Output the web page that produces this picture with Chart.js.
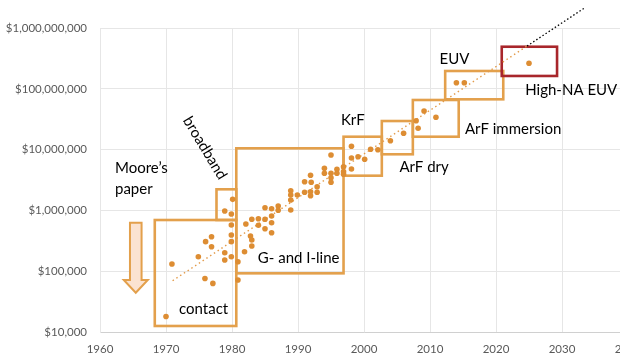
<!DOCTYPE html>
<html><head><meta charset="utf-8">
<script src="https://cdn.jsdelivr.net/npm/chart.js@4"></script>
<style>html,body{margin:0;padding:0;overflow:hidden;background:#fff;width:620px;height:361px}canvas{display:block}</style>
</head><body><canvas id="c" width="680" height="361"></canvas>
<script>
// ---- data ----
const years = [1970.0,1970.9,1974.9,1975.9,1977.1,1976.0,1976.9,1976.9,1978.9,1978.9,1978.9,1979.9,1979.9,1979.9,1979.9,1979.9,1980.9,1980.9,1981.9,1982.1,1980.1,
 1983.0,1982.8,1983.0,1983.0,1984.0,1984.0,1985.0,1985.0,1985.0,1986.0,1986.0,1986.0,1986.0,1987.0,1987.0,1988.9,1988.9,1988.9,1988.9,1989.9,
 1991.0,1991.0,1991.9,1992.0,1991.9,1991.9,1992.9,1992.9,1994.0,1994.0,1995.0,1995.0,1995.0,1995.0,1995.9,1995.9,1996.9,1996.9,1996.9,
 1998.1,1998.1,1998.1,1999.1,2000.1,2001.0,2002.1,2004.0,2006.0,2007.9,2008.2,2009.1,2010.9,2014.0,2015.2,2025.0];
const costs = [18000,131000,173000,76000,63000,306000,369000,253000,977000,201000,153000,873000,575000,394000,306000,173000,143000,71600,209000,597000,1520000,
 714000,379000,326000,259000,730000,569000,1107000,714000,500000,1067000,809000,628000,430000,1181000,1004000,2110000,1791000,1483000,1016000,1791000,
 2965000,1985000,3778000,2900000,2030000,1745000,2455000,1985000,4926000,4074000,8150000,4074000,3450000,2900000,4742000,4074000,5233000,4335000,3926000,
 11330000,7275000,4800000,7640000,6920000,10120000,9960000,13960000,18540000,29870000,22400000,43150000,33970000,126000000,126000000,262600000];

const trendYears = [1971, 2024.7];
const trendCosts = [69700, 505000000];
const forecastYears = [2024.7, 2033.4];
const forecastCosts = [505000000, 2130000000];

const xTicks = [1960,1970,1980,1990,2000,2010,2020,2030,2040];
const yTicks = [1e4,1e5,1e6,1e7,1e8,1e9];
const yTickLabels = ['$10,000','$100,000','$1,000,000','$10,000,000','$100,000,000','$1,000,000,000'];

const eras      = ['contact','broadband','G- and I-line','KrF','ArF dry','ArF immersion','EUV','High-NA EUV'];
const eraStart  = [1968.3, 1977.65, 1980.65, 1996.9, 2002.7, 2007.4, 2012.3, 2020.87];
const eraEnd    = [1980.65, 1980.65, 1996.9, 2002.7, 2007.4, 2014.35, 2021.1, 2029.25];
const eraLow    = [12560, 695000, 92260, 3724000, 8375000, 16290000, 67140000, 162600000];
const eraHigh   = [695000, 2223000, 10500000, 16290000, 29510000, 65460000, 196300000, 492000000];

// label placement (data units) and styling
const eraLabelPos = [
  {x:1975.7, y:23900},
  {x:1975.9, y:10600000, rot:59},
  {x:1990.1, y:163000},
  {x:1998.3, y:30100000},
  {x:2009.1, y:5240000},
  {x:2022.6, y:21800000},
  {x:2013.7, y:313000000},
  {x:2031.4, y:95500000}
];
const mooreText = ['Moore\u2019s','paper'];
const moorePos = [{x:1962.27, y:4980000},{x:1962.27, y:2250000}];
const arrow = {x:1965.42, top:628000, headBase:71600, tip:44300};

const ORANGE = '#E3A04C', DOT = '#DD8D33', RED = '#A8262B';

const annot = {
  id:'annot',
  beforeDatasetsDraw(chart){
    const {ctx, scales:{x,y}} = chart;
    ctx.save();
    ctx.lineWidth = 2.6;
    eras.forEach((e,i)=>{
      const x0 = x.getPixelForValue(eraStart[i]), x1 = x.getPixelForValue(eraEnd[i]);
      const y0 = y.getPixelForValue(eraHigh[i]), y1 = y.getPixelForValue(eraLow[i]);
      ctx.strokeStyle = i===eras.length-1 ? RED : ORANGE;
      ctx.strokeRect(x0, y0, x1-x0, y1-y0);
    });
    // arrow
    const ax = x.getPixelForValue(arrow.x);
    const at = y.getPixelForValue(arrow.top), ab = y.getPixelForValue(arrow.headBase), ap = y.getPixelForValue(arrow.tip);
    const sw = 5.8, hw = 12;
    ctx.beginPath();
    ctx.moveTo(ax-sw, at); ctx.lineTo(ax+sw, at); ctx.lineTo(ax+sw, ab); ctx.lineTo(ax+hw, ab);
    ctx.lineTo(ax, ap); ctx.lineTo(ax-hw, ab); ctx.lineTo(ax-sw, ab); ctx.closePath();
    ctx.fillStyle = '#FBE3D1'; ctx.fill();
    ctx.strokeStyle = ORANGE; ctx.lineWidth = 2; ctx.lineJoin='miter'; ctx.stroke();
    ctx.restore();
  },
  afterDraw(chart){
    const {ctx, scales:{x,y}} = chart;
    ctx.save();
    ctx.fillStyle = '#000';
    ctx.font = '15px Lato';
    ctx.textBaseline = 'middle';
    eras.forEach((e,i)=>{
      const p = eraLabelPos[i];
      const px = x.getPixelForValue(p.x), py = y.getPixelForValue(p.y);
      ctx.save();
      ctx.translate(px, py);
      if (p.rot) ctx.rotate(p.rot*Math.PI/180);
      ctx.textAlign = 'center';
      ctx.fillText(e, 0, 0);
      ctx.restore();
    });
    ctx.textAlign = 'left';
    mooreText.forEach((t,i)=>{
      ctx.fillText(t, x.getPixelForValue(moorePos[i].x), y.getPixelForValue(moorePos[i].y));
    });
    ctx.restore();
  }
};

const tickFont = {family:'Lato', size:11.5};
new Chart(document.getElementById('c'), {
  type:'scatter',
  data:{datasets:[
    {data: years.map((v,i)=>({x:v, y:costs[i]})), backgroundColor:DOT, borderColor:DOT, pointRadius:2.8, pointHoverRadius:2.8, borderWidth:0},
    {type:'line', data: trendYears.map((v,i)=>({x:v, y:trendCosts[i]})), borderColor:'#E39B4A', borderWidth:1.4, borderDash:[1.5,3], pointRadius:0, fill:false, clip:false},
    {type:'line', data: forecastYears.map((v,i)=>({x:v, y:forecastCosts[i]})), borderColor:'#000', borderWidth:1.3, borderDash:[1.5,2.2], pointRadius:0, fill:false, clip:false}
  ]},
  options:{
    responsive:false, animation:false, events:[],
    layout:{padding:{top:28, right:52, left:0, bottom:0}},
    plugins:{legend:{display:false}, tooltip:{enabled:false}},
    scales:{
      x:{type:'linear', min:1960, max:2040,
        afterBuildTicks:s=>{s.ticks = xTicks.map(v=>({value:v}));},
        afterFit:s=>{s.height = 29;},
        grid:{color:'#E6E6E6', drawTicks:false},
        border:{color:'#D0D0D0'},
        ticks:{padding:10, color:'#595959', font:tickFont, maxRotation:0, autoSkip:false, callback:(v,i)=>String(xTicks[i])}},
      y:{type:'logarithmic', min:1e4, max:1e9,
        afterBuildTicks:s=>{s.ticks = yTicks.map(v=>({value:v}));},
        afterFit:s=>{s.width = 100;},
        grid:{color:'#E6E6E6', drawTicks:false},
        border:{color:'#E6E6E6'},
        ticks:{padding:13, color:'#595959', font:tickFont, autoSkip:false, callback:(v,i)=>yTickLabels[i]}}
    }
  },
  plugins:[annot]
});
</script>
</body></html>
